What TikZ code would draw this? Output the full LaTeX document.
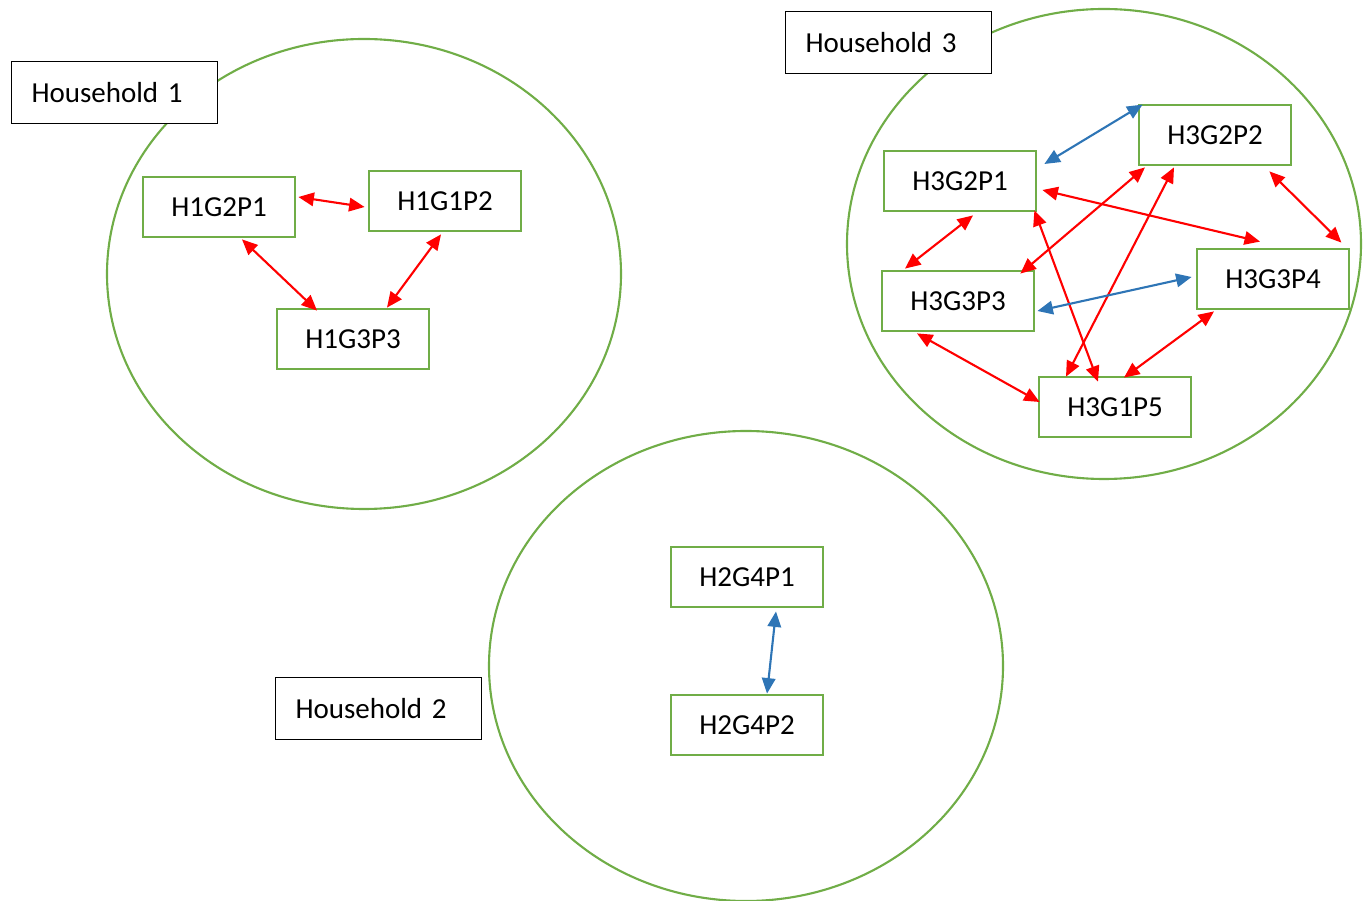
\documentclass[tikz,border=0pt]{standalone}
\usepackage{fontspec}
\setmainfont{Carlito}[WordSpace=0.8]
\usetikzlibrary{arrows.meta,calc}
\definecolor{hhgreen}{HTML}{70AD47}
\definecolor{tieblue}{HTML}{2E75B6}

\begin{document}
\begin{tikzpicture}[x=0.02cm, y=-0.02cm,
		font=\fontsize{16.5}{20}\selectfont,
		household/.style={draw=hhgreen, line width=1.2pt},
		hhlabel/.style={draw=black, fill=white, line width=0.6pt, anchor=north west,
			text width=3.32cm, inner xsep=0.4cm, inner ysep=0pt, minimum height=1.24cm, align=left},
		person/.style={draw=hhgreen, fill=white, line width=1.6pt, minimum width=3.04cm,
			minimum height=1.2cm, inner sep=0pt},
		tie/.style={line width=1.2pt, {Triangle[length=0.31cm,width=0.27cm]}-{Triangle[length=0.31cm,width=0.27cm]}},
		redtie/.style={tie, red},
		bluetie/.style={tie, tieblue}]
		\useasboundingbox (0,0) rectangle (1369,901);
		
		% Household circles
		\draw[household] (364,274) ellipse (257 and 235);
		\draw[household] (1104,244) ellipse (257 and 235);
		\draw[household] (746,666) ellipse (257 and 235);
		
		% Household labels
		\node[hhlabel] (lab1) at (11,61) {Household 1};
		\node[hhlabel] (lab3) at (785,11) {Household 3};
		\node[hhlabel] (lab2) at (275,677) {Household 2};
		
		% Household 1
		\node[person] (h1g2p1) at (219,207) {H1G2P1};
		\node[person] (h1g1p2) at (445,201) {H1G1P2};
		\node[person] (h1g3p3) at (353,339) {H1G3P3};
		\draw[redtie] ($(h1g2p1.east)+(2,-10)$) -- ($(h1g1p2.west)+(-3,6)$);
		\draw[redtie] ($(h1g2p1.south)+(23,1)$) -- ($(h1g3p3.north)+(-36,3)$);
		\draw[redtie] ($(h1g1p2.south)+(-4,2)$) -- ($(h1g3p3.north)+(34,0)$);
		
		% Household 2
		\node[person] (h2g4p1) at (747,577) {H2G4P1};
		\node[person] (h2g4p2) at (747,725) {H2G4P2};
		\draw[bluetie] ($(h2g4p1.south)+(29,3)$) -- ($(h2g4p2.north)+(20,0)$);
		
		% Household 3
		\node[person] (h3g2p1) at (960,181) {H3G2P1};
		\node[person] (h3g2p2) at (1215,135) {H3G2P2};
		\node[person] (h3g3p3) at (958,301) {H3G3P3};
		\node[person] (h3g3p4) at (1273,279) {H3G3P4};
		\node[person] (h3g1p5) at (1115,407) {H3G1P5};
		\draw[bluetie] ($(h3g2p1.east)+(7,-17)$) -- ($(h3g2p2.north west)+(5,1)$);
		\draw[redtie] ($(h3g2p1.east)+(5,9)$) -- ($(h3g3p4.north)+(-13,-6)$);
		\draw[redtie] ($(h3g2p1.south east)+(-3,-2)$) -- ($(h3g1p5.north)+(-17,6)$);
		\draw[redtie] ($(h3g2p1.south)+(13,3)$) -- ($(h3g3p3.north)+(-53,-1)$);
		\draw[redtie] ($(h3g2p2.south)+(-70,1)$) -- ($(h3g3p3.north east)+(-15,4)$);
		\draw[redtie] ($(h3g2p2.south)+(-41,1)$) -- ($(h3g1p5.north)+(-49,1)$);
		\draw[redtie] ($(h3g2p2.south east)+(-23,5)$) -- ($(h3g3p4.north east)+(-9,-5)$);
		\draw[bluetie] ($(h3g3p3.east)+(2,10)$) -- ($(h3g3p4.west)+(-4,-2)$);
		\draw[redtie] ($(h3g3p3.south)+(-41,1)$) -- ($(h3g1p5.west)+(2,-5)$);
		\draw[redtie] ($(h3g3p4.south)+(-59,1)$) -- ($(h3g1p5.north)+(9,2)$);
		
	\end{tikzpicture}
\end{document}
